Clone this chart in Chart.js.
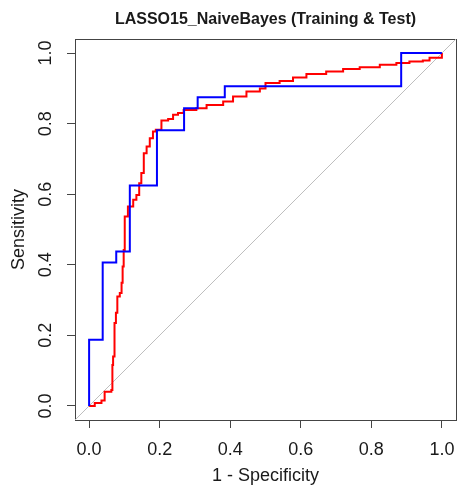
<!DOCTYPE html>
<html>
<head>
<meta charset="utf-8">
<script src="https://cdn.jsdelivr.net/npm/chart.js@4/dist/chart.umd.min.js"></script>
<style>
html, body { margin: 0; padding: 0; background: #ffffff; }
#wrap { width: 459px; height: 487px; }
</style>
</head>
<body>
<div id="wrap"><canvas id="c" width="459" height="487"></canvas></div>
<script>
// ---- chart text ----
const chartTitle = 'LASSO15_NaiveBayes (Training & Test)';
const xAxisTitle = '1 - Specificity';
const yAxisTitle = 'Sensitivity';

// ---- axes ----
const tickValues = [0, 0.2, 0.4, 0.6, 0.8, 1.0];
const tickLabels = ['0.0', '0.2', '0.4', '0.6', '0.8', '1.0'];
const axisMin = -0.04;
const axisMax = 1.04;

// ---- test ROC (blue): 1 - specificity, sensitivity ----
const testFpr = [0, 0, 0.0385, 0.0385, 0.0769, 0.0769, 0.1154, 0.1154, 0.1923, 0.1923, 0.2692, 0.2692, 0.3077, 0.3077, 0.3846, 0.3846, 0.8846, 0.8846, 1.0];
const testTpr = [0, 0.1875, 0.1875, 0.40625, 0.40625, 0.4375, 0.4375, 0.625, 0.625, 0.78125, 0.78125, 0.84375, 0.84375, 0.875, 0.875, 0.90625, 0.90625, 1.0, 1.0];

// ---- training ROC (red): 1 - specificity, sensitivity ----
const trainFpr = [0, 0.016, 0.035, 0.044, 0.063, 0.066, 0.068, 0.072, 0.076, 0.080, 0.087, 0.092, 0.095, 0.098, 0.101, 0.110, 0.125, 0.134, 0.142, 0.148, 0.155, 0.163, 0.172, 0.181, 0.189, 0.205, 0.224, 0.238, 0.252, 0.268, 0.304, 0.333, 0.380, 0.408, 0.446, 0.484, 0.500, 0.540, 0.578, 0.616, 0.672, 0.720, 0.767, 0.824, 0.871, 0.908, 0.946, 0.965, 1.0];
const trainTpr = [0, 0.008, 0.015, 0.040, 0.045, 0.116, 0.140, 0.235, 0.264, 0.310, 0.320, 0.349, 0.395, 0.442, 0.537, 0.565, 0.584, 0.598, 0.631, 0.660, 0.716, 0.735, 0.759, 0.778, 0.783, 0.809, 0.813, 0.825, 0.830, 0.839, 0.844, 0.853, 0.863, 0.877, 0.891, 0.900, 0.915, 0.921, 0.931, 0.941, 0.948, 0.955, 0.960, 0.967, 0.972, 0.976, 0.979, 0.987, 1.0];

// ---- reference diagonal (spans the full axis range) ----
const diagX = [axisMin, axisMax];
const diagY = [axisMin, axisMax];

const toPoints = (xs, ys) => xs.map((x, i) => ({ x: x, y: ys[i] }));

const FONT = 'Liberation Sans, Arial, Helvetica, sans-serif';
const AXIS_COLOR = '#444444';
const TEXT_COLOR = '#1a1a1a';

function zeroPad(s) { s.paddingLeft = 0; s.paddingRight = 0; s.paddingTop = 0; s.paddingBottom = 0; }

new Chart(document.getElementById('c'), {
  type: 'line',
  data: {
    datasets: [
      { label: 'Test', data: toPoints(testFpr, testTpr), borderColor: '#0000ff', borderWidth: 2, pointRadius: 0, fill: false, tension: 0, order: 1 },
      { label: 'Training', data: toPoints(trainFpr, trainTpr), borderColor: '#ff0000', borderWidth: 2, pointRadius: 0, fill: false, tension: 0, stepped: 'before', order: 2 },
      { label: 'Diagonal', data: toPoints(diagX, diagY), borderColor: '#bebebe', borderWidth: 1, pointRadius: 0, fill: false, tension: 0, order: 3 }
    ]
  },
  options: {
    responsive: false,
    animation: false,
    devicePixelRatio: 1,
    layout: { padding: 0 },
    plugins: { legend: { display: false }, tooltip: { enabled: false }, title: { display: false } },
    scales: {
      x: {
        type: 'linear', position: 'bottom', min: axisMin, max: axisMax,
        afterBuildTicks: s => { s.ticks = tickValues.map(v => ({ value: v })); },
        ticks: { callback: (v, i) => tickLabels[i], autoSkip: false, maxRotation: 0, minRotation: 0, padding: 11, color: TEXT_COLOR, font: { family: FONT, size: 18 } },
        grid: { display: true, drawOnChartArea: false, drawTicks: true, tickLength: 8, color: AXIS_COLOR, lineWidth: 1 },
        border: { display: true, color: AXIS_COLOR, width: 1 },
        title: { display: true, text: xAxisTitle, color: TEXT_COLOR, font: { family: FONT, size: 18 }, padding: { top: 0, bottom: 0 } },
        afterFit: s => { s.height = 67; zeroPad(s); }
      },
      y: {
        type: 'linear', position: 'left', min: axisMin, max: axisMax,
        afterBuildTicks: s => { s.ticks = tickValues.map(v => ({ value: v })); },
        ticks: { callback: (v, i) => tickLabels[i], autoSkip: false, minRotation: 90, maxRotation: 90, crossAlign: 'center', padding: 8, color: TEXT_COLOR, font: { family: FONT, size: 18 } },
        grid: { display: true, drawOnChartArea: false, drawTicks: true, tickLength: 8, color: AXIS_COLOR, lineWidth: 1 },
        border: { display: true, color: AXIS_COLOR, width: 1 },
        title: { display: true, text: yAxisTitle, color: TEXT_COLOR, font: { family: FONT, size: 18 }, padding: { top: 8, bottom: 0 } },
        afterFit: s => { s.width = 75; zeroPad(s); }
      },
      xTop: {
        type: 'linear', position: 'top', min: axisMin, max: axisMax,
        ticks: { display: false },
        grid: { display: true, drawOnChartArea: false, drawTicks: false },
        border: { display: true, color: AXIS_COLOR, width: 1 },
        title: { display: true, text: chartTitle, color: TEXT_COLOR, font: { family: FONT, size: 16, weight: 'bold' }, padding: { top: 10, bottom: 0 } },
        afterFit: s => { s.height = 39; zeroPad(s); }
      },
      yRight: {
        type: 'linear', position: 'right', min: axisMin, max: axisMax,
        ticks: { display: false },
        grid: { display: true, drawOnChartArea: false, drawTicks: false },
        border: { display: true, color: AXIS_COLOR, width: 1 },
        afterFit: s => { s.width = 3; zeroPad(s); }
      }
    }
  }
});
</script>
</body>
</html>
